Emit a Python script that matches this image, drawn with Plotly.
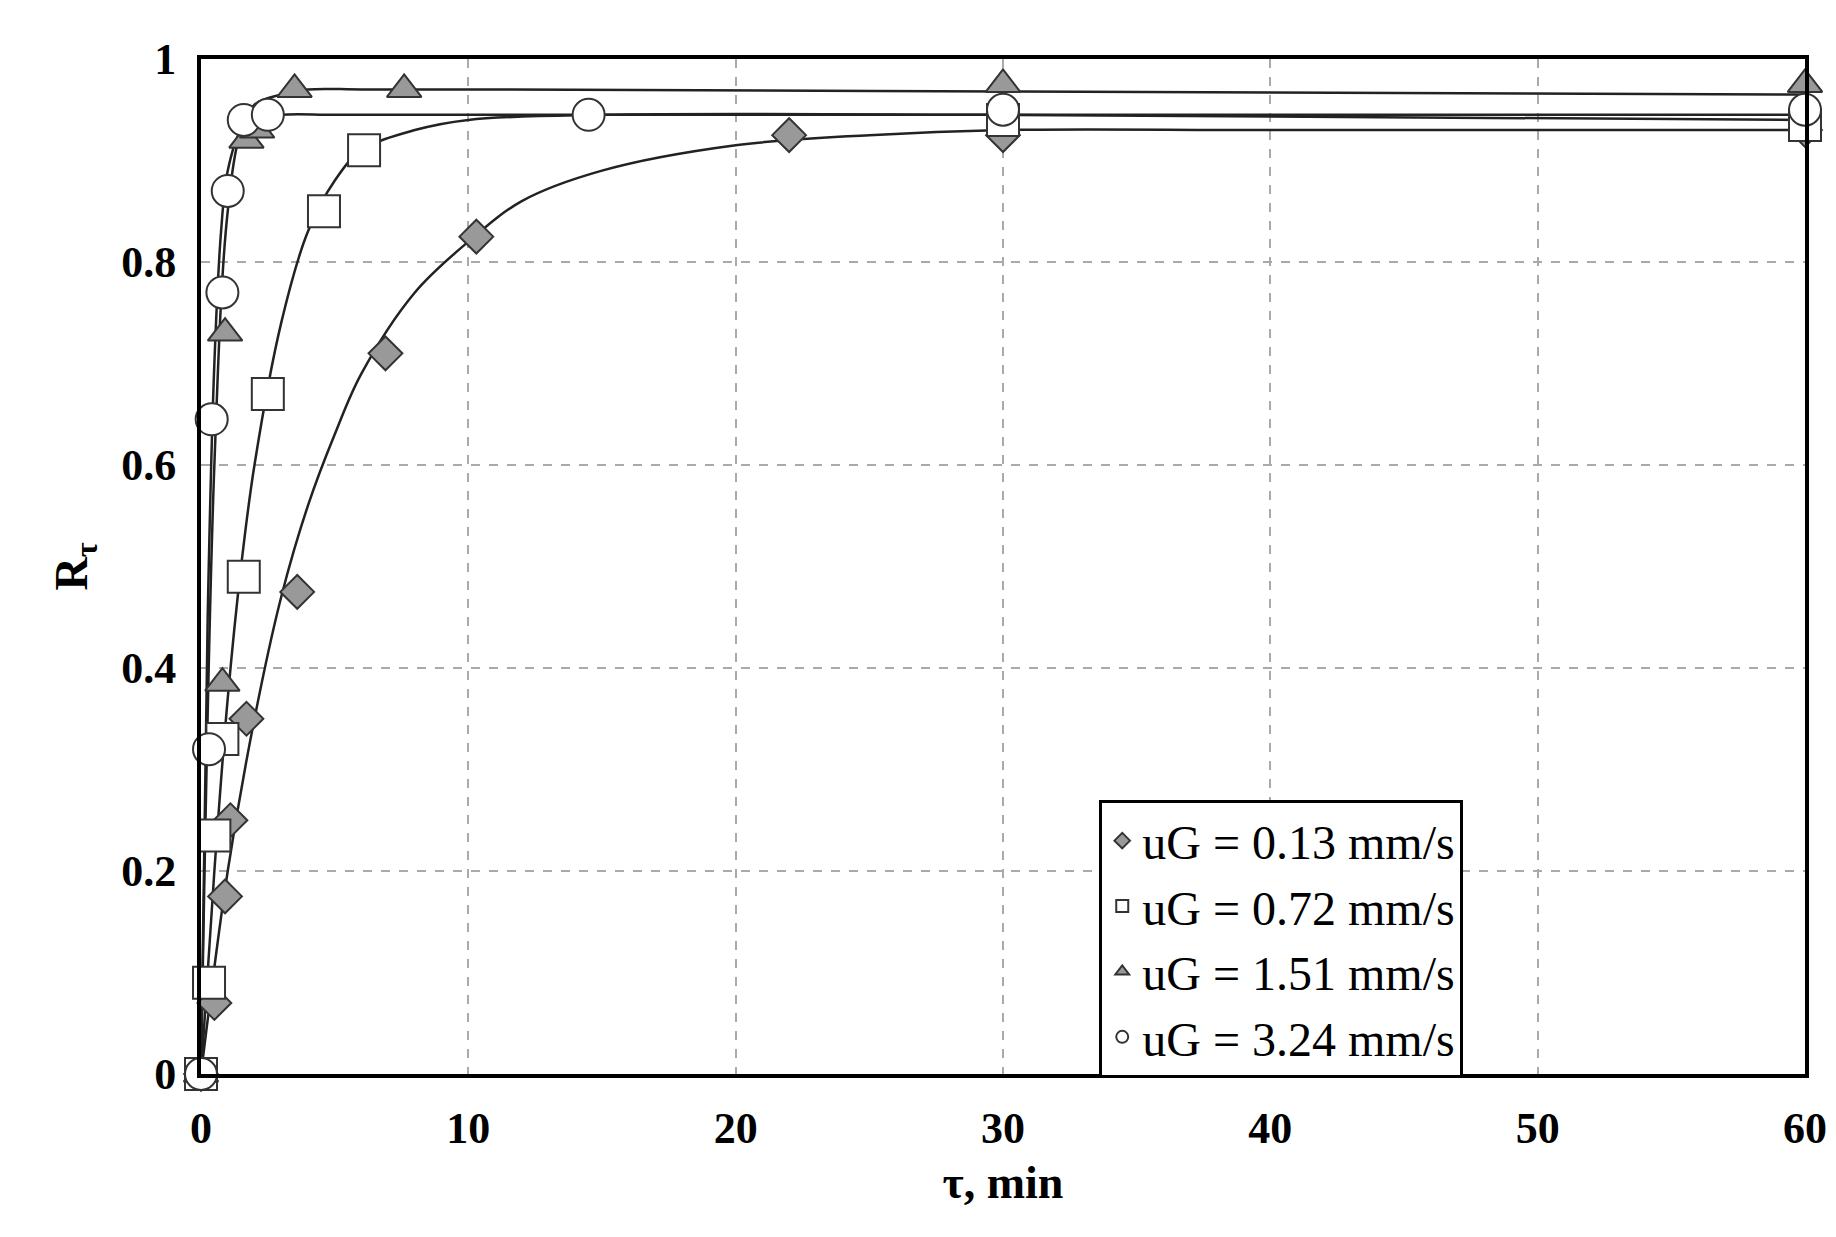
import plotly.graph_objects as go

# measured points
t_013 = [0, 0.5, 0.9, 1.1, 1.7, 3.6, 6.9, 10.3, 22, 30, 60]
r_013 = [0, 0.07, 0.175, 0.25, 0.35, 0.475, 0.71, 0.825, 0.925, 0.925, 0.93]
t_072 = [0, 0.3, 0.5, 0.8, 1.6, 2.5, 4.6, 6.1, 30, 60]
r_072 = [0, 0.09, 0.235, 0.33, 0.49, 0.67, 0.85, 0.91, 0.94, 0.935]
t_151 = [0, 0.8, 0.9, 1.7, 2.1, 3.5, 7.6, 30, 60]
r_151 = [0, 0.385, 0.73, 0.92, 0.93, 0.97, 0.97, 0.975, 0.975]
t_324 = [0, 0.3, 0.4, 0.8, 1.0, 1.6, 2.5, 14.5, 30, 60]
r_324 = [0, 0.32, 0.645, 0.77, 0.87, 0.94, 0.945, 0.945, 0.95, 0.95]

# fitted curves
ct_013 = [0, 1, 2, 3, 4, 5, 6, 8, 10, 12, 15, 20, 25, 30, 40, 60]
cr_013 = [0, 0.2, 0.35, 0.47, 0.56, 0.63, 0.69, 0.77, 0.82, 0.86, 0.89, 0.915, 0.925, 0.93, 0.93, 0.93]
ct_072 = [0, 0.5, 1, 1.5, 2, 3, 4, 5, 6, 8, 10, 15, 30, 60]
cr_072 = [0, 0.2, 0.37, 0.5, 0.6, 0.74, 0.83, 0.88, 0.91, 0.93, 0.94, 0.945, 0.945, 0.94]
ct_151 = [0, 0.5, 1, 1.5, 2, 3, 4, 6, 10, 30, 60]
cr_151 = [0, 0.6, 0.85, 0.93, 0.955, 0.965, 0.97, 0.97, 0.97, 0.968, 0.965]
ct_324 = [0, 0.25, 0.5, 0.75, 1, 1.5, 2, 3, 5, 10, 30, 60]
cr_324 = [0, 0.45, 0.7, 0.83, 0.89, 0.93, 0.94, 0.945, 0.945, 0.945, 0.945, 0.945]

x_ticks = [0, 10, 20, 30, 40, 50, 60]
y_ticks = [0, 0.2, 0.4, 0.6, 0.8, 1]
y_labels = ["0", "0.2", "0.4", "0.6", "0.8", "1"]

series = [
    ("uG = 0.13 mm/s", t_013, r_013, ct_013, cr_013, "diamond", "#999999", 26),
    ("uG = 0.72 mm/s", t_072, r_072, ct_072, cr_072, "square", "white", 32),
    ("uG = 1.51 mm/s", t_151, r_151, ct_151, cr_151, "triangle-up", "#999999", 30),
    ("uG = 3.24 mm/s", t_324, r_324, ct_324, cr_324, "circle", "white", 32),
]

fig = go.Figure()
for name, t, r, ct, cr, sym, col, sz in series:
    fig.add_trace(go.Scatter(x=ct, y=cr, mode="lines", line=dict(color="#222", width=2.5, shape="spline"),
                             showlegend=False, hoverinfo="skip"))
for name, t, r, ct, cr, sym, col, sz in series:
    fig.add_trace(go.Scatter(x=t, y=r, mode="markers", name=name, cliponaxis=False,
                             marker=dict(symbol=sym, color=col, size=sz, line=dict(color="#333", width=2))))

serif = "Liberation Serif"
ax = dict(showline=True, mirror=True, linecolor="black", linewidth=4, ticks="", zeroline=False,
          showgrid=True, gridcolor="#aaaaaa", griddash="dash", gridwidth=2, ticklabelstandoff=12,
          tickfont=dict(family=serif, size=44, color="black"))
fig.update_xaxes(range=[0, 60], tickvals=x_ticks, ticktext=["<b>%d</b>" % v for v in x_ticks],
                 title=dict(text="<b>τ, min</b>", font=dict(family=serif, size=46, color="black")), **ax)
fig.update_yaxes(range=[0, 1], tickvals=y_ticks, ticktext=["<b>%s</b>" % s for s in y_labels],
                 title=dict(text="<b>R<sub>τ</sub></b>", font=dict(family=serif, size=46, color="black"), standoff=20), **ax)
fig.update_layout(width=1836, height=1237, plot_bgcolor="white", paper_bgcolor="white",
                  margin=dict(l=193, r=39, t=51, b=171),
                  legend=dict(x=0.56, y=0.27, xanchor="left", yanchor="top", bordercolor="black", borderwidth=3,
                              bgcolor="white", font=dict(family=serif, size=48, color="black"),
                              itemsizing="constant", itemwidth=30, tracegroupgap=0))
fig.write_html("out.html")
